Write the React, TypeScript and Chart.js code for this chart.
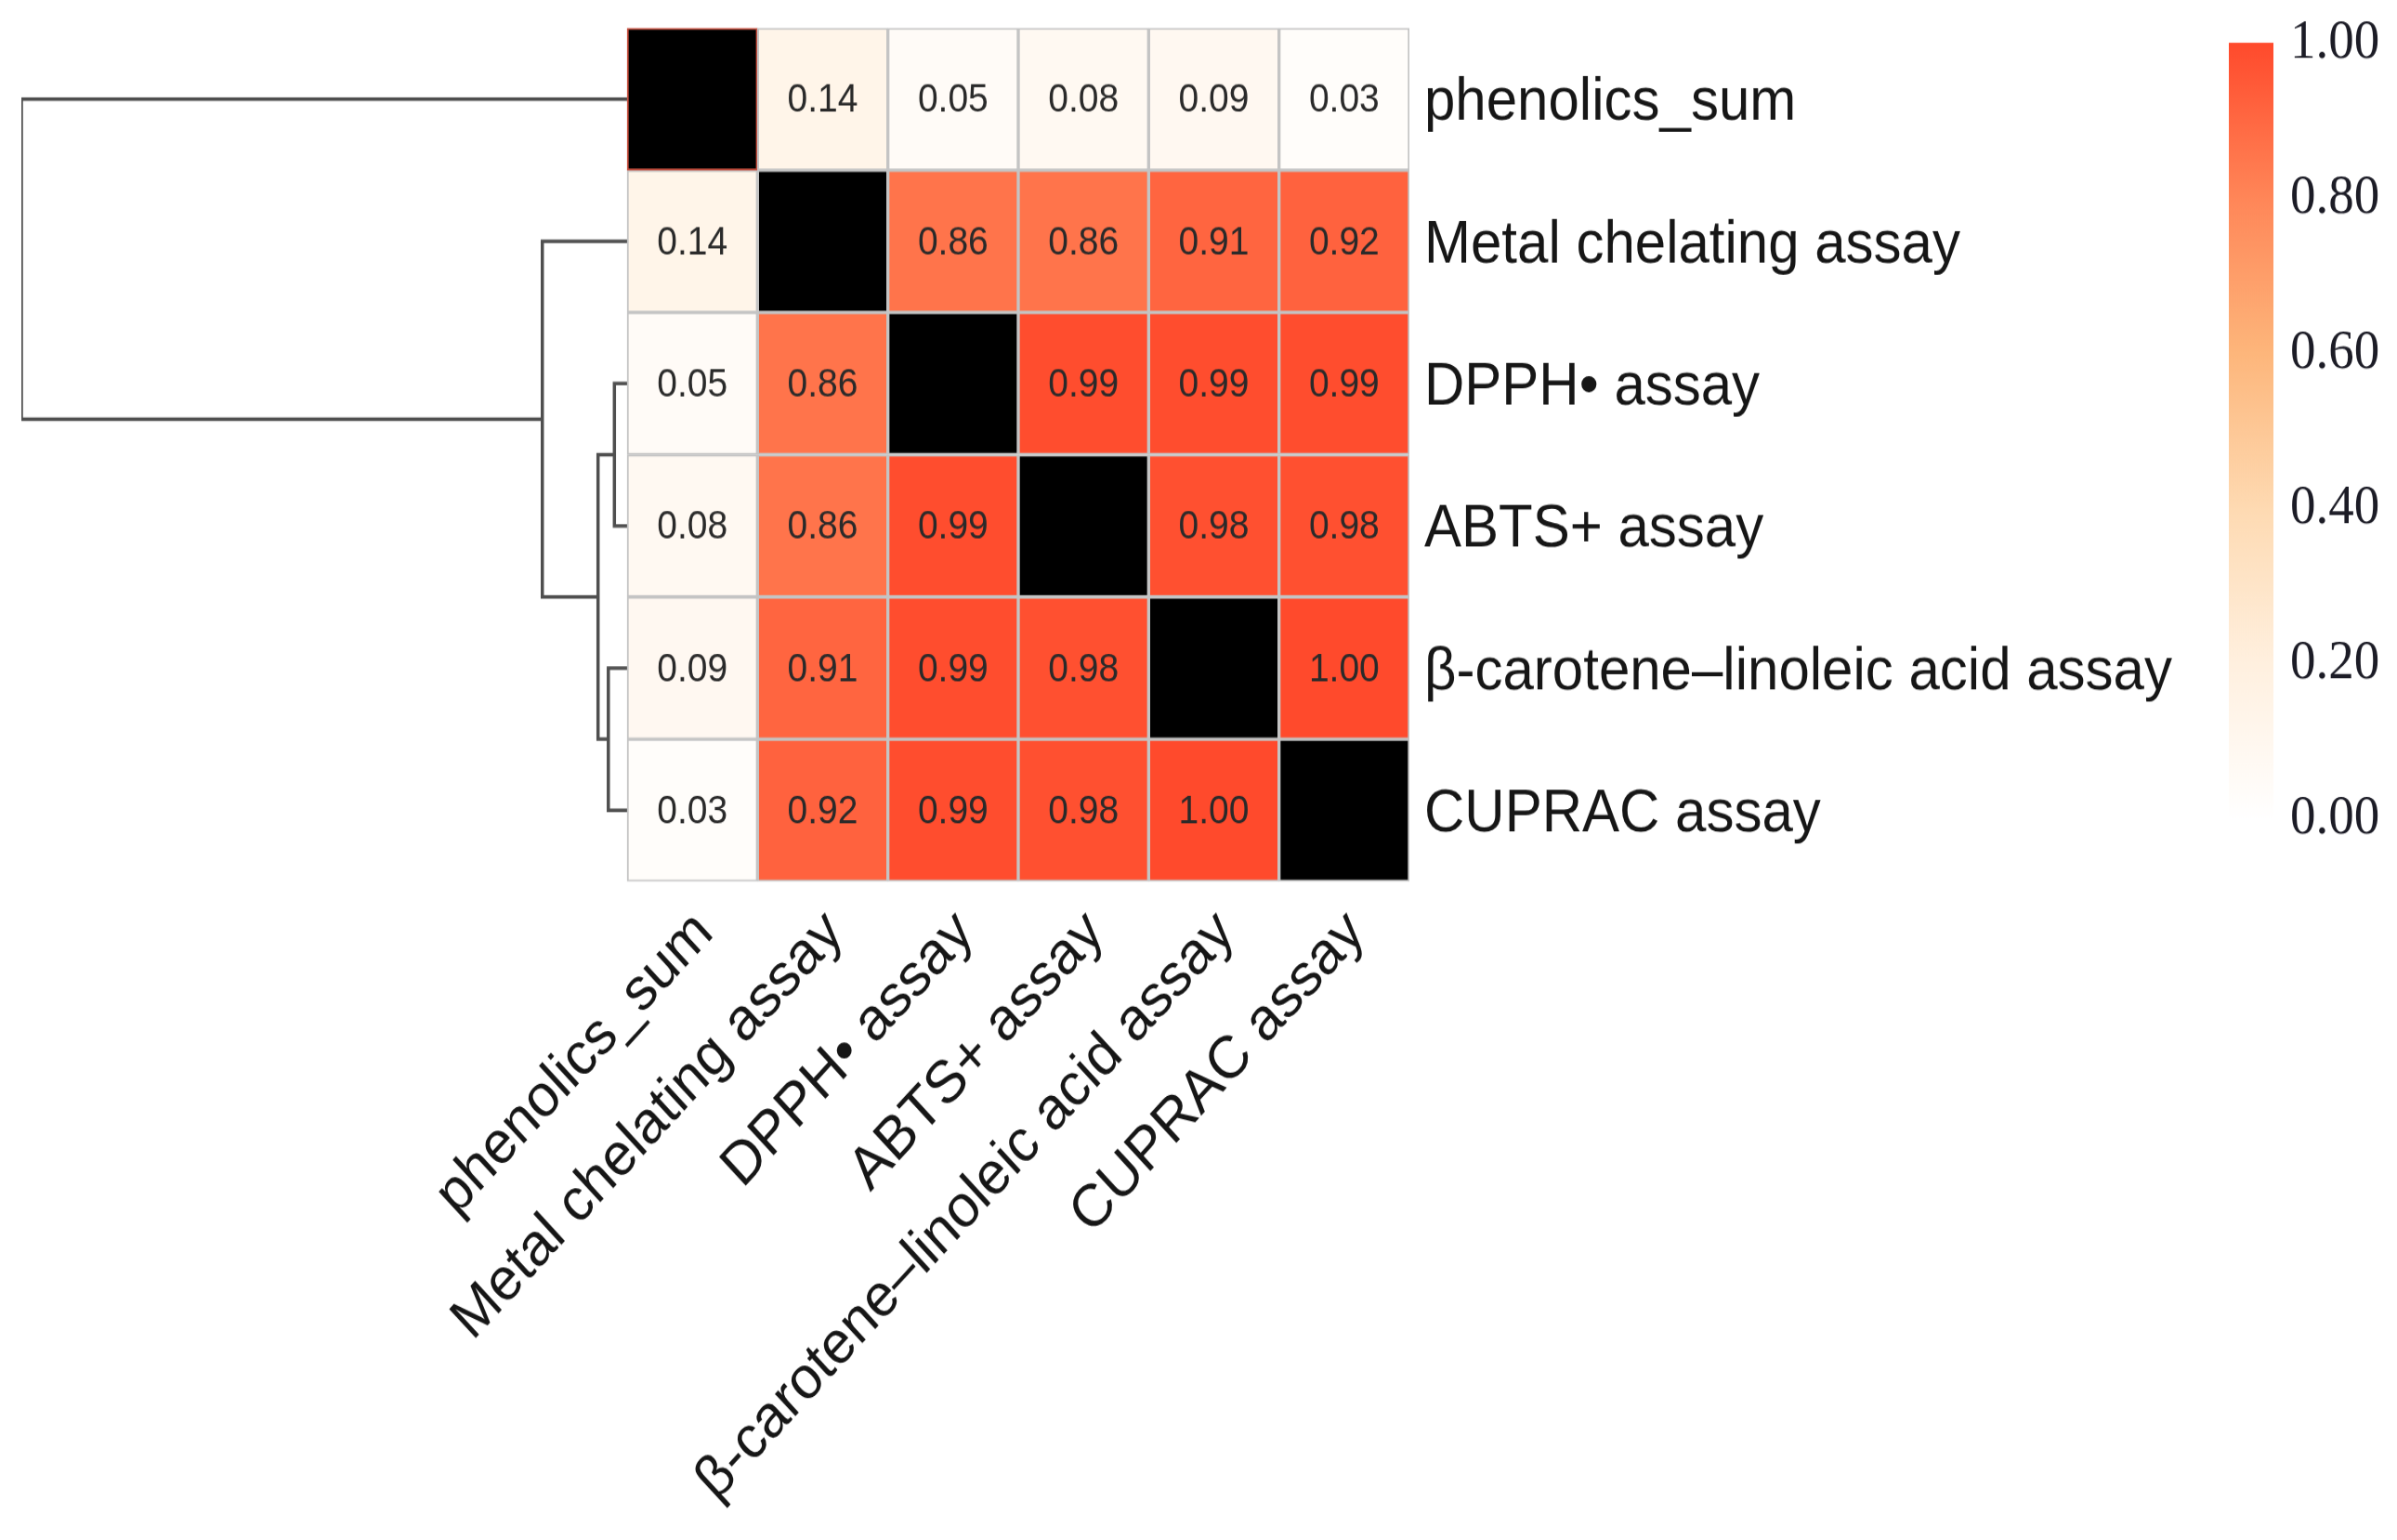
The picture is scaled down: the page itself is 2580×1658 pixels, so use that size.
import React, { useEffect, useRef } from 'react';
import { Chart, registerables } from 'chart.js';

Chart.register(...registerables);

// ---------------- data ----------------
const rowLabels = [
  'phenolics_sum',
  'Metal chelating assay',
  'DPPH• assay',
  'ABTS+ assay',
  'β-carotene–linoleic acid assay',
  'CUPRAC assay',
];
const colLabels = [
  'phenolics_sum',
  'Metal chelating assay',
  'DPPH• assay',
  'ABTS+ assay',
  'β-carotene–linoleic acid assay',
  'CUPRAC assay',
];

const rowPhenolics = [1.0, 0.14, 0.05, 0.08, 0.09, 0.03];
const rowMetal = [0.14, 1.0, 0.86, 0.86, 0.91, 0.92];
const rowDPPH = [0.05, 0.86, 1.0, 0.99, 0.99, 0.99];
const rowABTS = [0.08, 0.86, 0.99, 1.0, 0.98, 0.98];
const rowCarotene = [0.09, 0.91, 0.99, 0.98, 1.0, 1.0];
const rowCUPRAC = [0.03, 0.92, 0.99, 0.98, 1.0, 1.0];
const correlationRows = [rowPhenolics, rowMetal, rowDPPH, rowABTS, rowCarotene, rowCUPRAC];

// hierarchical clustering of rows: [childA, childB, height]; leaves 0..5, merged nodes 6..
const linkage: [number, number, number][] = [
  [2, 3, 0.021],
  [4, 5, 0.031],
  [6, 7, 0.048],
  [1, 8, 0.14],
  [0, 9, 1.0],
];

const colorbarTicks = [0, 0.2, 0.4, 0.6, 0.8, 1.0];
const colorStops: [number, string][] = [
  [0, '#FFFFFF'],
  [0.2, '#FFF0DF'],
  [0.4, '#FEDAB2'],
  [0.6, '#FDB67B'],
  [0.8, '#FF8658'],
  [1, '#FF4A2C'],
];

// ---------------- layout (canvas px) ----------------
const CANVAS_W = 2580;
const CSS_H = 1658;
const STRETCH = 1.0915;
const CANVAS_H = Math.round(CSS_H / STRETCH);
const DENDRO_LEFT = 23;
const HM_LEFT = 675;
const HM_RIGHT = 1517;
const HM_TOP = 30 / STRETCH;
const HM_BOTTOM = 949 / STRETCH;
const BAR_LEFT = 2399;
const BAR_W = 48;
const CB_LABEL_X = 2457;
const CB_TOP = 46 / STRETCH;
const CB_BOTTOM = 882 / STRETCH;

const nCols = colLabels.length;
const nRows = rowLabels.length;
const cellW = (HM_RIGHT - HM_LEFT) / nCols;
const rootHeight = linkage[linkage.length - 1][2];

function hexToRgb(h: string) {
  const n = parseInt(h.slice(1), 16);
  return [(n >> 16) & 255, (n >> 8) & 255, n & 255];
}
function colorFor(v: number) {
  for (let k = 1; k < colorStops.length; k++) {
    const [p1, c1] = colorStops[k];
    const [p0, c0] = colorStops[k - 1];
    if (v <= p1 || k === colorStops.length - 1) {
      const t = Math.max(0, Math.min(1, (v - p0) / (p1 - p0)));
      const a = hexToRgb(c0);
      const b = hexToRgb(c1);
      const r = a.map((x, i) => Math.round(x + (b[i] - x) * t));
      return `rgb(${r[0]},${r[1]},${r[2]})`;
    }
  }
  return colorStops[colorStops.length - 1][1];
}

function buildDendrogram() {
  const ys: number[] = rowLabels.map((_, i) => i);
  const hs: number[] = rowLabels.map(() => 0);
  const segs: { x: number; y: number }[][] = [];
  linkage.forEach(([a, b, h]) => {
    segs.push([
      { x: hs[a], y: ys[a] },
      { x: h, y: ys[a] },
      { x: h, y: ys[b] },
      { x: hs[b], y: ys[b] },
    ]);
    ys.push((ys[a] + ys[b]) / 2);
    hs.push(h);
  });
  return segs;
}

export default function App() {
  const ref = useRef<HTMLCanvasElement | null>(null);

  useEffect(() => {
    if (!ref.current) return;

    const barSets = correlationRows.map((row, i) => ({
      type: 'bar' as const,
      label: rowLabels[i],
      data: row.map((v, j) => ({ x: j, y: [i - 0.5, i + 0.5], v })),
      backgroundColor: row.map((v, j) => (i === j ? '#000000' : colorFor(v))),
      borderColor: row.map((_, j) => (i === 0 && j === 0 ? '#C9503F' : '#C4C4C4')),
      borderWidth: 2,
      borderSkipped: false,
      grouped: false,
      barPercentage: 1,
      categoryPercentage: 1,
      xAxisID: 'x',
      yAxisID: 'y',
    }));

    const lineSets = buildDendrogram().map((pts, k) => ({
      type: 'line' as const,
      label: 'node' + k,
      data: pts,
      borderColor: '#4f4f4f',
      borderWidth: 3.5,
      pointRadius: 0,
      tension: 0,
      fill: false,
      xAxisID: 'xd',
      yAxisID: 'y',
    }));

    const cellText = {
      id: 'cellText',
      afterDatasetsDraw(chart: any) {
        const { ctx } = chart;
        const xs = chart.scales.x;
        const ys = chart.scales.y;
        ctx.save();
        ctx.font = '39px "Liberation Sans", Arial, sans-serif';
        ctx.textAlign = 'center';
        ctx.textBaseline = 'middle';
        ctx.fillStyle = '#2a2a2a';
        correlationRows.forEach((row, i) => {
          row.forEach((v, j) => {
            if (i === j) return;
            ctx.fillText(v.toFixed(2), xs.getPixelForValue(j), ys.getPixelForValue(i) + 2);
          });
        });
        ctx.restore();
      },
    };

    const colorbar = {
      id: 'colorbar',
      beforeDatasetsDraw(chart: any) {
        const { ctx } = chart;
        const yc = chart.scales.yc;
        const top = yc.getPixelForValue(1);
        const bottom = yc.getPixelForValue(0);
        const g = ctx.createLinearGradient(0, bottom, 0, top);
        colorStops.forEach(([p, c]) => g.addColorStop(p, c));
        ctx.save();
        ctx.fillStyle = g;
        ctx.fillRect(yc.left, top, BAR_W, bottom - top);
        ctx.restore();
      },
    };

    const pxPerUnitCb = (CB_BOTTOM - CB_TOP) / 1;
    const ycMax = 1 + (CB_TOP - HM_TOP) / pxPerUnitCb;
    const ycMin = -(HM_BOTTOM - CB_BOTTOM) / pxPerUnitCb;

    const chart = new Chart(ref.current, {
      type: 'bar',
      data: { datasets: [...barSets, ...lineSets] as any },
      plugins: [colorbar, cellText],
      options: {
        animation: false,
        responsive: false,
        devicePixelRatio: 1,
        events: [],
        layout: { padding: { left: DENDRO_LEFT, top: HM_TOP, right: 0, bottom: 0 } },
        plugins: { legend: { display: false }, tooltip: { enabled: false } },
        scales: {
          x: {
            type: 'linear',
            position: 'bottom',
            offset: false,
            min: -0.5 - (HM_LEFT - DENDRO_LEFT) / cellW,
            max: nCols - 0.5,
            grid: { display: false },
            border: { display: false },
            afterBuildTicks: (axis: any) => {
              axis.ticks = colLabels.map((_, i) => ({ value: i }));
            },
            afterFit: (axis: any) => {
              axis.height = CANVAS_H - HM_BOTTOM;
              axis.paddingLeft = 0;
              axis.paddingRight = 0;
            },
            ticks: {
              autoSkip: false,
              minRotation: 45,
              maxRotation: 45,
              padding: 8,
              labelOffset: 13,
              color: '#161616',
              font: { family: '"Liberation Sans", Arial, sans-serif', size: 59 },
              callback: (v: any) => colLabels[Math.round(Number(v))] ?? '',
            },
          },
          xd: {
            type: 'linear',
            axis: 'x',
            position: 'bottom',
            display: false,
            offset: false,
            reverse: true,
            max: rootHeight,
            min: (-rootHeight * (HM_RIGHT - HM_LEFT)) / (HM_LEFT - DENDRO_LEFT),
          },
          y: {
            type: 'linear',
            position: 'right',
            weight: 0,
            offset: false,
            reverse: true,
            min: -0.5,
            max: nRows - 0.5,
            grid: { display: false },
            border: { display: false },
            afterBuildTicks: (axis: any) => {
              axis.ticks = rowLabels.map((_, i) => ({ value: i }));
            },
            afterFit: (axis: any) => {
              axis.width = BAR_LEFT - HM_RIGHT;
              axis.paddingTop = 0;
              axis.paddingBottom = 0;
            },
            ticks: {
              padding: 8,
              labelOffset: 4,
              color: '#161616',
              font: { family: '"Liberation Sans", Arial, sans-serif', size: 60 },
              callback: (v: any) => rowLabels[Math.round(Number(v))] ?? '',
            },
          },
          yc: {
            type: 'linear',
            axis: 'y',
            position: 'right',
            weight: 1,
            offset: false,
            min: ycMin,
            max: ycMax,
            grid: { display: false },
            border: { display: false },
            afterBuildTicks: (axis: any) => {
              axis.ticks = colorbarTicks.map((v) => ({ value: v }));
            },
            afterFit: (axis: any) => {
              axis.width = CANVAS_W - BAR_LEFT;
              axis.paddingTop = 0;
              axis.paddingBottom = 0;
            },
            ticks: {
              padding: CB_LABEL_X - BAR_LEFT,
              color: '#1c1c26',
              font: { family: '"Liberation Serif", "Times New Roman", serif', size: 55 },
              callback: (v: any) => Number(v).toFixed(2),
            },
          },
        } as any,
      },
    } as any);

    return () => chart.destroy();
  }, []);

  return (
    <div style={{ position: 'absolute', left: 0, top: 0, width: CANVAS_W, height: CSS_H, background: '#fff' }}>
      <canvas
        ref={ref}
        width={CANVAS_W}
        height={CANVAS_H}
        style={{ display: 'block', width: CANVAS_W + 'px', height: CSS_H + 'px' }}
      />
    </div>
  );
}
